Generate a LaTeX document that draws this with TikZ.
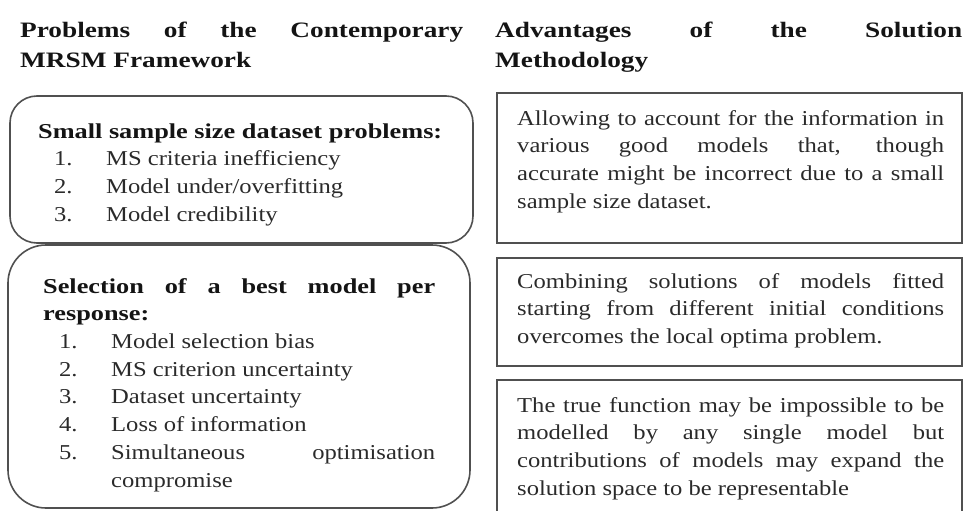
\documentclass[tikz,border=0pt]{standalone}
\usepackage{fontspec}
\setmainfont{Liberation Serif}[FakeStretch=1.16,BoldFeatures={FakeStretch=1.24}]
\usepackage{tikz}

\definecolor{boxgray}{RGB}{80,80,80}
\definecolor{txtgray}{RGB}{42,42,42}
\definecolor{headblack}{RGB}{20,20,20}

\newcommand{\bodysize}{\fontsize{21.2}{27.7}\selectfont}
\newcommand{\headsize}{\fontsize{22}{30}\selectfont}
% numbered line inside a box: number, then text with hanging indent
\newcommand{\numitem}[2]{\par\noindent\hangindent=68pt\hangafter=1\hspace*{16pt}\makebox[52pt][l]{#1}#2\par}

\tikzset{
  head/.style={anchor=north west, inner sep=0pt, align=justify, font=\headsize\bfseries, text=headblack},
  body/.style={anchor=north west, inner sep=0pt, align=justify, font=\bodysize, text=txtgray},
  roundbox/.style={draw=boxgray, line width=1.6pt, rounded corners=#1},
  plainbox/.style={draw=boxgray, line width=1.6pt}
}

\begin{document}
\begin{tikzpicture}[x=1pt,y=-1pt]
  \useasboundingbox (0,0) rectangle (964,511);
  \clip (0,0) rectangle (964,511);
  \tolerance=10000

  % headings
  \node[head, text width=443pt] (probhead) at (20,16) {\strut Problems of the Contemporary\linebreak MRSM Framework};
  \node[head, text width=467pt] (advhead) at (495,16) {\strut Advantages of the Solution\linebreak Methodology};

  % left column
  \draw[roundbox=27pt] (10,96) rectangle (473,243);
  \draw[roundbox=38pt] (8,245) rectangle (470,508);
  \node[body, text width=420pt] (smallsample) at (38,118.6) {%
    \strut\textbf{\color{headblack}Small sample size dataset problems:}
    \numitem{1.}{MS criteria inefficiency}
    \numitem{2.}{Model under/overfitting}
    \numitem{3.}{Model credibility}};
  \node[body, text width=392pt] (bestmodel) at (43,273.6) {%
    \strut\textbf{\color{headblack}Selection of a best model per\linebreak response:}
    \numitem{1.}{Model selection bias}
    \numitem{2.}{MS criterion uncertainty}
    \numitem{3.}{Dataset uncertainty}
    \numitem{4.}{Loss of information}
    \numitem{5.}{Simultaneous optimisation\linebreak compromise}};

  % right column
  \draw[plainbox] (497,93) rectangle (962,243);
  \draw[plainbox] (497,258) rectangle (962,366);
  \draw[plainbox] (497,380) rectangle (962,530);
  \node[body, text width=427pt] (goodmodels) at (517,105.6) {\strut Allowing to account for the information in\linebreak various good models that, though\linebreak accurate might be incorrect due to a small\linebreak sample size dataset.};
  \node[body, text width=427pt] (localoptima) at (517,268.6) {\strut Combining solutions of models fitted\linebreak starting from different initial conditions\linebreak overcomes the local optima problem.};
  \node[body, text width=427pt] (truefunc) at (517,392.6) {\strut The true function may be impossible to be\linebreak modelled by any single model but\linebreak contributions of models may expand the\linebreak solution space to be representable};
\end{tikzpicture}
\end{document}
